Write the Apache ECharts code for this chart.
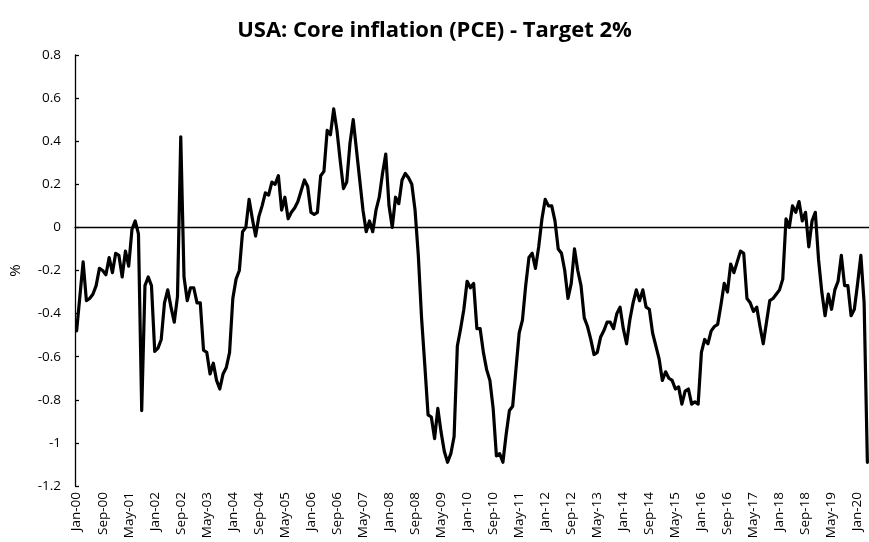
<!DOCTYPE html>
<html>
  <head>
    <meta charset="utf-8" />
    <title>USA: Core inflation (PCE) - Target 2%</title>
    <script src="https://cdn.jsdelivr.net/npm/echarts@6/dist/echarts.min.js"></script>
  </head>
  <body style="margin: 0; background: #fff">
    <div id="main" style="width: 869px; height: 542px"></div>
  </body>

  <script>
    // core PCE y/y minus the 2% target, monthly
    var gap2000to2003 = [
      -0.48, -0.32, -0.16, -0.34, -0.33, -0.31, -0.27, -0.19, -0.2, -0.22, -0.14, -0.21,
      -0.12, -0.13, -0.23, -0.11, -0.18, -0.01, 0.03, -0.03, -0.85, -0.27, -0.23, -0.27,
      -0.575, -0.56, -0.52, -0.35, -0.29, -0.37, -0.44, -0.32, 0.42, -0.23, -0.34, -0.28,
      -0.28, -0.35, -0.35, -0.57, -0.58, -0.68, -0.63, -0.71, -0.75, -0.68, -0.65, -0.58,
    ];
    var gap2004to2007 = [
      -0.33, -0.24, -0.2, -0.02, 0.0, 0.13, 0.04, -0.04, 0.05, 0.1, 0.16, 0.15,
      0.21, 0.2, 0.24, 0.08, 0.14, 0.04, 0.07, 0.09, 0.12, 0.17, 0.22, 0.19,
      0.07, 0.06, 0.07, 0.24, 0.26, 0.45, 0.43, 0.55, 0.45, 0.31, 0.18, 0.21,
      0.39, 0.5, 0.36, 0.22, 0.08, -0.02, 0.03, -0.02, 0.08, 0.14, 0.25, 0.34,
    ];
    var gap2008to2011 = [
      0.1, 0.0, 0.14, 0.11, 0.22, 0.25, 0.23, 0.2, 0.08, -0.13, -0.42, -0.64,
      -0.87, -0.88, -0.98, -0.84, -0.95, -1.04, -1.09, -1.05, -0.97, -0.55, -0.47, -0.38,
      -0.25, -0.28, -0.26, -0.47, -0.47, -0.58, -0.66, -0.71, -0.84, -1.06, -1.05, -1.09,
      -0.96, -0.85, -0.83, -0.66, -0.49, -0.43, -0.27, -0.14, -0.12, -0.19, -0.09, 0.04,
    ];
    var gap2012to2015 = [
      0.13, 0.1, 0.1, 0.03, -0.1, -0.12, -0.2, -0.33, -0.26, -0.1, -0.2, -0.27,
      -0.42, -0.46, -0.52, -0.59, -0.58, -0.51, -0.48, -0.44, -0.44, -0.47, -0.4, -0.37,
      -0.47, -0.54, -0.43, -0.35, -0.29, -0.34, -0.29, -0.37, -0.38, -0.49, -0.55, -0.61,
      -0.71, -0.67, -0.7, -0.71, -0.75, -0.74, -0.82, -0.76, -0.75, -0.82, -0.81, -0.82,
    ];
    var gap2016to2020 = [
      -0.58, -0.52, -0.54, -0.48, -0.46, -0.45, -0.36, -0.26, -0.3, -0.17, -0.21, -0.16,
      -0.11, -0.12, -0.33, -0.35, -0.39, -0.37, -0.46, -0.54, -0.44, -0.34, -0.33, -0.31,
      -0.29, -0.24, 0.04, 0.0, 0.1, 0.07, 0.12, 0.03, 0.07, -0.09, 0.03, 0.07,
      -0.15, -0.3, -0.41, -0.31, -0.38, -0.29, -0.25, -0.13, -0.27, -0.27, -0.41, -0.38,
      -0.26, -0.13, -0.35, -1.09,
    ];

    var monthNames = ["Jan", "Feb", "Mar", "Apr", "May", "Jun", "Jul", "Aug", "Sep", "Oct", "Nov", "Dec"];

    var coreGap = gap2000to2003.concat(gap2004to2007, gap2008to2011, gap2012to2015, gap2016to2020);

    // category labels Jan-00 ... Apr-20
    var months = [];
    for (var k = 0; k < coreGap.length; k++) {
      var yy = (k - (k % 12)) / 12;
      months.push(monthNames[k % 12] + "-" + (yy < 10 ? "0" + yy : "" + yy));
    }

    var myChart = echarts.init(document.getElementById("main"));

    var option = {
      backgroundColor: "#fff",
      animation: false,
      title: {
        text: "USA: Core inflation (PCE) - Target 2%",
        left: "center",
        top: 15,
        textStyle: {
          fontFamily: "Open Sans",
          fontWeight: "bold",
          fontSize: 22,
          color: "#000",
        },
      },
      grid: {
        left: 72,
        right: 0,
        top: 55,
        bottom: 56,
      },
      xAxis: [
        {
          // axis drawn on the zero line, ticks only
          type: "category",
          data: months,
          boundaryGap: true,
          axisLine: { onZero: true, lineStyle: { color: "#000", width: 1.3 } },
          axisTick: { inside: true, length: 5, interval: 7, lineStyle: { color: "#000", width: 1.3 } },
          axisLabel: { show: false },
          splitLine: { show: false },
        },
        {
          // labels at the bottom of the plot
          type: "category",
          data: months,
          position: "bottom",
          boundaryGap: true,
          axisLine: { show: false, onZero: false },
          axisTick: { show: false },
          axisLabel: {
            interval: 7,
            rotate: 90,
            margin: 6,
            fontFamily: "Open Sans",
            fontSize: 13.5,
            color: "#000",
          },
          splitLine: { show: false },
        },
      ],
      yAxis: {
        type: "value",
        min: -1.2,
        max: 0.8,
        interval: 0.2,
        name: "%",
        nameLocation: "middle",
        nameGap: 52,
        nameTextStyle: { fontFamily: "Open Sans", fontSize: 15, color: "#000" },
        axisLine: { show: true, lineStyle: { color: "#000", width: 1.3 } },
        axisTick: { show: true, inside: true, length: 4, lineStyle: { color: "#000", width: 1.3 } },
        axisLabel: {
          margin: 14,
          fontFamily: "Open Sans",
          fontSize: 13.5,
          color: "#000",
        },
        splitLine: { show: false },
      },
      series: [
        {
          name: "Core PCE - 2%",
          type: "line",
          xAxisIndex: 0,
          data: coreGap,
          showSymbol: false,
          symbol: "none",
          z: 5,
          lineStyle: { color: "#000", width: 3.2, cap: "round", join: "round" },
        },
      ],
    };

    myChart.setOption(option);
  </script>
</html>
